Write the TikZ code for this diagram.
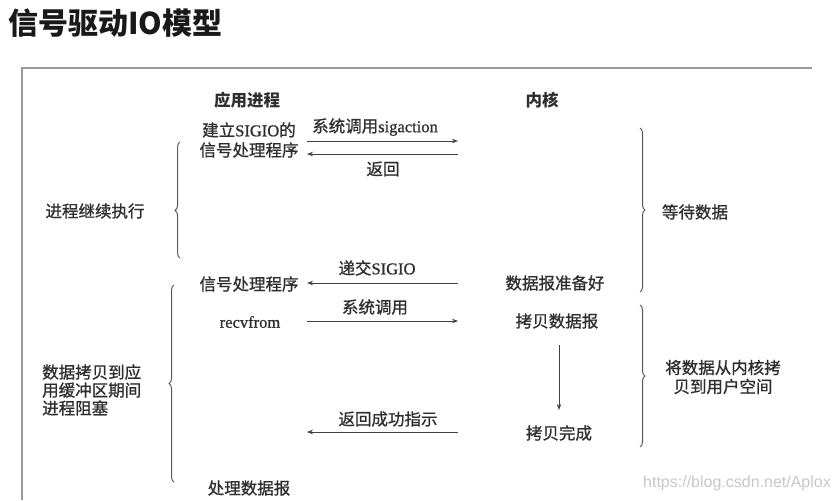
\documentclass[tikz,border=0pt]{standalone}
\usepackage{fontspec}
\setmainfont{Liberation Serif}
\newfontfamily\lat[FakeBold=1]{Liberation Serif}
\newfontfamily\cjk[FakeBold=1]{Noto Sans CJK SC}
\newfontfamily\cjkt{Noto Sans CJK SC}
\newfontfamily\wmfont{Liberation Sans}
\usetikzlibrary{arrows.meta,decorations.pathreplacing}
\begin{document}
\begin{tikzpicture}[x=1pt,y=-1pt,
  txt/.style={font=\cjk\fontsize{16.5}{19}\selectfont, text=black!82, inner sep=0pt},
  hdr/.style={txt, font=\cjkt\bfseries\fontsize{16.5}{19}\selectfont},
  arr/.style={draw=black!75, line width=0.9pt, -{Stealth[length=6pt,width=4.5pt]}},
  brc/.style={draw=black!65, line width=1pt, decorate},
  frameline/.style={draw=black!40, line width=1.2pt}]
\useasboundingbox (0,0) rectangle (834,500);

% title
\node[txt, font=\cjkt\bfseries\fontsize{30}{32}\selectfont, text=black!90, anchor=west] (title) at (8,23) {信号驱动IO模型};

% frame
\coordinate (f1) at (22,500);
\coordinate (f2) at (22,68);
\coordinate (f3) at (812,68);
\draw[frameline] (f1) -- (f2) -- (f3);

% headers
\node[hdr] (app) at (247,100) {应用进程};
\node[hdr] (ker) at (542,100) {内核};

% setup
\node[txt, align=center, font=\cjk\fontsize{16.5}{20}\selectfont] (setup) at (249,140) {建立{\lat SIGIO}的\\信号处理程序};
\coordinate (a1s) at (307,141);
\coordinate (a1e) at (458,141);
\draw[arr] (a1s) -- (a1e);
\node[txt] (l1) at (375,127) {系统调用{\lat sigaction}};
\coordinate (a2s) at (458,154);
\coordinate (a2e) at (307,154);
\draw[arr] (a2s) -- (a2e);
\node[txt] (l2) at (383,169) {返回};

% wait phase
\node[txt] (cont) at (95,211) {进程继续执行};
\coordinate (b1b) at (180,258);
\coordinate (b1t) at (180,142);
\draw[brc, decoration={brace, amplitude=5pt, aspect=0.41}] (b1b) -- (b1t);
\coordinate (b2t) at (640,128);
\coordinate (b2b) at (640,292);
\draw[brc, decoration={brace, amplitude=5pt, aspect=0.5}] (b2t) -- (b2b);
\node[txt] (waitd) at (695,212) {等待数据};

% signal delivery
\node[txt] (hdl) at (249,284) {信号处理程序};
\node[txt] (ready) at (555,283) {数据报准备好};
\coordinate (a3s) at (458,283);
\coordinate (a3e) at (307,283);
\draw[arr] (a3s) -- (a3e);
\node[txt] (sig) at (377,268) {递交{\lat SIGIO}};

% recvfrom
\node[txt, font=\lat\fontsize{16.5}{19}\selectfont] (recv) at (250,322) {recvfrom};
\node[txt] (l4) at (375,307) {系统调用};
\coordinate (a4s) at (307,321);
\coordinate (a4e) at (458,321);
\draw[arr] (a4s) -- (a4e);
\node[txt] (copy) at (557,321) {拷贝数据报};
\node[txt] (done) at (559,433) {拷贝完成};
\coordinate (v1) at (559,345);
\coordinate (v2) at (559,410);
\draw[arr] (v1) -- (v2);
\node[txt] (l5) at (388,419) {返回成功指示};
\coordinate (a5s) at (458,432);
\coordinate (a5e) at (307,432);
\draw[arr] (a5s) -- (a5e);
\node[txt] (proc) at (249,488) {处理数据报};

% blocking phase
\coordinate (b3b) at (174,482);
\coordinate (b3t) at (174,285);
\draw[brc, decoration={brace, amplitude=5pt, aspect=0.5}] (b3b) -- (b3t);
\node[txt, align=left, anchor=west, font=\cjk\fontsize{16.5}{18}\selectfont] (blk) at (42,390) {数据拷贝到应\\用缓冲区期间\\进程阻塞};
\coordinate (b4t) at (640,305);
\coordinate (b4b) at (640,447);
\draw[brc, decoration={brace, amplitude=5pt, aspect=0.5}] (b4t) -- (b4b);
\node[txt, align=center, font=\cjk\fontsize{16.5}{19}\selectfont] (cp) at (723,377) {将数据从内核拷\\贝到用户空间};

% watermark
\node[inner sep=0pt, text=black!22, font=\wmfont\fontsize{16}{18}\selectfont] (wm) at (737,483) {https://blog.csdn.net/Aplox};
\end{tikzpicture}
\end{document}
